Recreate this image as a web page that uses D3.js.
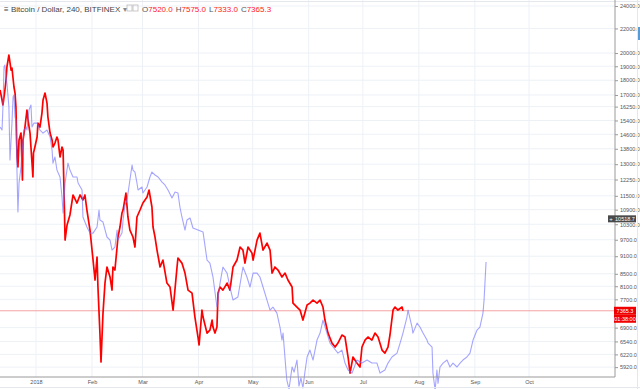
<!DOCTYPE html>
<html>
<head>
<meta charset="utf-8">
<script src="https://cdn.jsdelivr.net/npm/d3@7"></script>
<style>
body{margin:0;background:#fff}
svg{display:block;font-family:"Liberation Sans",Arial,sans-serif}
</style>
</head>
<body>
<div id="chart"></div>
<script>
const W=640,H=389
const plotR=615,plotB=377

// days since 2018-01-01
const redDay=[-19.9,-18.8,-18.3,-17.2,-16.6,-16.1,-15.0,-13.8,-13.3,-12.2,-11.6,-11.1,-10.5,-10.0,-9.4,-8.3,-7.8,-7.5,-7.2,-6.1,-5.0,-4.4,-3.3,-2.8,-2.2,-1.7,-1.4,-0.6,0.6,1.1,2.2,3.3,3.9,5.0,6.1,6.6,7.8,8.9,9.4,10.5,11.6,12.2,13.3,14.4,15.0,15.5,16.1,17.2,18.8,20.5,22.7,24.4,26.0,27.1,28.2,29.9,31.6,32.7,33.8,34.3,35.4,36.0,37.1,38.2,39.3,41.0,42.1,42.6,43.7,44.9,45.4,46.5,47.6,48.2,49.8,50.9,52.0,53.7,54.8,55.9,57.6,59.2,61.5,62.6,64.2,64.8,65.9,67.0,68.7,70.3,72.5,74.2,75.9,78.1,78.6,80.8,82.5,84.2,86.4,88.0,89.1,89.7,90.3,91.9,92.5,94.7,96.3,97.5,98.0,99.1,100.2,100.8,101.9,103.5,105.8,107.4,109.1,111.3,113.0,114.6,115.7,117.4,119.6,120.2,122.4,124.0,125.7,127.9,129.6,130.7,132.3,134.0,136.2,137.9,139.5,141.8,142.3,144.5,146.2,147.8,150.1,151.7,153.4,155.6,157.3,158.9,160.0,161.7,163.9,165.6,167.2,169.4,171.1,172.8,173.9,175.5,177.7,179.4,180.5,182.2,183.8,186.0,187.7,189.4,191.6,193.2,194.9,196.0,197.7,198.8,200.4,202.7,203.2]
const redVal=[17330,16670,16352,17330,18013,18946,19849,18725,18873,17534,17125,16226,13367,12859,14276,14666,13211,12226,14276,15015,16037,15427,14666,13896,13055,12370,13572,13896,14444,15245,15015,15848,16670,17125,16474,15609,14666,14276,13896,14108,14444,14276,13367,13896,13734,11761,9688,10270,10676,11537,11183,11537,11314,11537,10884,10071,8966,8297,9072,8076,6755,6038,7299,8200,8727,8395,7981,8727,8625,9430,9803,10190,10758,10884,11625,10594,10071,9803,9430,10594,10884,11183,11447,11761,11012,10190,9803,9320,8727,8966,8200,8076,7386,8727,9037,8860,8524,7981,7889,7189,6835,6653,6450,7386,7189,6755,6835,7105,6916,6755,6916,7889,8076,7981,8200,7981,8727,8966,9430,9320,8860,9430,9210,8966,9688,9953,9320,9574,9320,8524,8727,8625,8395,8524,8297,8076,7588,7473,7386,7105,7531,7588,7678,7588,7678,7473,7105,6755,6498,6400,6498,6705,6653,6157,5785,6157,6014,5923,6400,6575,6653,6575,6755,6653,6325,6251,6400,6705,7386,7473,7386,7473,7365]

const blueDay=[-19.9,-18.8,-18.3,-17.7,-17.2,-16.6,-16.1,-15.0,-14.4,-13.3,-12.7,-12.2,-11.6,-11.1,-10.5,-10.0,-9.4,-8.3,-7.8,-6.6,-5.5,-5.0,-3.9,-2.8,-2.2,-1.1,0.6,2.2,3.9,6.1,7.8,8.9,9.4,10.5,11.6,13.3,14.4,15.0,16.1,17.7,18.8,20.5,22.7,23.3,25.5,26.0,28.2,29.9,31.6,33.8,34.9,35.4,37.1,39.3,41.0,42.1,43.7,44.9,45.4,47.6,48.2,49.3,50.4,52.0,53.2,53.7,54.8,55.9,56.5,58.7,59.2,61.5,63.1,64.2,65.9,67.6,69.8,71.4,73.1,75.3,77.0,78.6,79.7,80.8,82.5,83.6,85.3,86.9,89.7,92.5,94.7,96.3,98.0,100.2,101.9,103.5,105.8,107.4,109.1,111.8,114.6,116.8,118.5,120.2,122.4,124.0,125.7,127.9,129.6,131.2,133.4,135.1,136.2,136.8,138.4,138.9,140.1,141.8,142.9,144.5,145.6,146.7,147.8,148.9,150.1,151.7,153.4,155.6,157.3,158.9,161.1,162.8,164.5,167.2,169.4,171.1,172.8,175.0,177.7,180.5,183.3,186.0,188.8,190.5,193.2,194.9,197.1,199.9,201.6,203.2,205.4,206.0,208.2,208.7,211.0,212.6,214.3,216.5,217.1,219.3,219.8,221.0,222.0,222.6,223.7,225.4,227.6,229.2,230.9,233.1,234.8,236.4,238.6,240.3,242.0,244.2,245.8,247.5,248.1,248.6,249.2]
const blueVal=[15015,14840,16226,18946,19094,18226,17806,16226,13211,15245,16867,16999,15609,15427,12562,10799,12085,12859,13572,14840,15015,14840,16037,16352,15015,15245,15245,14840,14666,14840,14444,13734,13055,13367,12709,12370,11447,10758,12085,13055,12709,12370,12370,12085,11761,10594,10190,9953,9953,10190,10884,10470,10388,9803,9688,9320,9430,10071,9688,9953,10470,11098,11314,12226,12959,12709,12610,12085,11761,11899,11625,11899,12370,12610,12466,12370,12131,11993,11761,11403,11669,11625,11012,10594,10071,10470,10553,10151,10071,9993,8966,8860,8395,7473,8200,8727,8524,8076,7678,7769,8727,8395,8076,8524,8524,8395,8076,7678,7386,7473,7299,6916,6575,6755,5854,5631,5438,5923,5808,6085,5502,5676,5460,5808,6157,6325,6085,6575,6755,7105,6755,6498,6400,6251,6325,6014,5854,5785,6085,6014,6085,6014,6014,5785,5854,6014,6157,6251,6498,6755,7189,7386,6916,6755,7021,6916,6755,6575,6498,6400,5785,5417,5854,5560,5923,6014,6085,5923,6014,5923,6014,6085,6157,6251,6575,6835,6916,7299,7678,8200,8896]

const yTicks=[24000,22000,20000,19000,18000,17000,16250,15400,14600,13800,13000,12250,11500,10900,10300,9700,9100,8500,8100,7700,6900,6540,6220,5920]
const lastPrice=7365.3
const crossPrice=10518.7
const countdown="01:38:00"
const title="Bitcoin / Dollar, 240, BITFINEX"
const ohlcKeys=["O","H","L","C"]
const ohlcVals=["7520.0","7575.0","7333.0","7365.3"]

const base=Date.UTC(2018,0,1)
const day=d=>new Date(base+d*864e5)

const x=d3.scaleUtc().domain([day(-19.93),day(320.6)]).range([0,plotR])
const y=d3.scaleLog().domain([5698,24565]).range([plotB,0])

const svg=d3.select("#chart").append("svg")
	.attr("width",W).attr("height",H)

// grid
const months=d3.utcMonth.range(day(0),day(280))
svg.append("g").selectAll("line").data(months).join("line")
	.attr("x1",d=>x(d)).attr("x2",d=>x(d))
	.attr("y1",0).attr("y2",plotB)
	.attr("stroke","#edf1f6")
svg.append("g").selectAll("line").data(yTicks).join("line")
	.attr("x1",0).attr("x2",plotR)
	.attr("y1",d=>y(d)).attr("y2",d=>y(d))
	.attr("stroke","#edf1f6")

// top border
svg.append("line").attr("x1",0).attr("x2",W).attr("y1",1.5).attr("y2",1.5).attr("stroke","#e4e7eb")

// last price line
svg.append("line")
	.attr("x1",0).attr("x2",plotR)
	.attr("y1",y(lastPrice)).attr("y2",y(lastPrice))
	.attr("stroke","#f4a3a3").attr("stroke-width",1)

const line=d3.line().x(d=>x(day(d[0]))).y(d=>y(d[1]))

svg.append("path")
	.datum(d3.zip(redDay,redVal))
	.attr("d",line)
	.attr("fill","none").attr("stroke","#ff0000").attr("stroke-width",1.7)
	.attr("stroke-linejoin","round")

svg.append("path")
	.datum(d3.zip(blueDay,blueVal))
	.attr("d",line)
	.attr("fill","none").attr("stroke","#6e6eff").attr("stroke-width",1.1)
	.attr("stroke-opacity",0.62).attr("stroke-linejoin","round")

// axes
const yAxis=svg.append("g").attr("transform",`translate(${plotR},0)`)
	.call(d3.axisRight(y).tickValues(yTicks).tickFormat(d3.format(".1f")).tickSize(3).tickPadding(2))
yAxis.select(".domain").attr("stroke","#9a9a9a").attr("d",`M0,0V${plotB}`)
yAxis.selectAll(".tick line").attr("stroke","#9a9a9a")
yAxis.selectAll("text").attr("fill","#555").style("font-size","5.5px")

const xAxis=svg.append("g").attr("transform",`translate(0,${plotB})`)
	.call(d3.axisBottom(x).tickValues(months)
		.tickFormat(d=>d.getUTCMonth()===0?"2018":d3.utcFormat("%b")(d)).tickSize(0).tickPadding(3))
xAxis.select(".domain").attr("stroke","#9a9a9a").attr("d",`M0,0H${plotR}`)
xAxis.selectAll("text").attr("fill","#555").style("font-size","5.5px")

// bottom/right frame
svg.append("line").attr("x1",0).attr("x2",W).attr("y1",387.5).attr("y2",387.5).attr("stroke","#e4e7eb")
svg.append("line").attr("x1",637.5).attr("x2",637.5).attr("y1",0).attr("y2",H).attr("stroke","#e4e7eb")
svg.append("rect").attr("x",638).attr("y",27).attr("width",2).attr("height",13).attr("fill","#5b9bd5")

// price labels
function tag(yy,h,fill,txt){
	svg.append("rect").attr("x",614).attr("y",yy-h/2).attr("width",22).attr("height",h).attr("fill",fill)
	svg.append("text").attr("x",625).attr("y",yy+2).attr("text-anchor","middle")
		.attr("fill","#fff").style("font-size","5.5px").text(txt)
}
tag(y(lastPrice),8,"#f00000",d3.format(".1f")(lastPrice))
tag(y(lastPrice)+8,8,"#f00000",countdown)
tag(y(crossPrice),7,"#4a4a4a",d3.format(".1f")(crossPrice))
svg.append("rect").attr("x",608).attr("y",y(crossPrice)-3.5).attr("width",6).attr("height",7).attr("fill","#4a4a4a")
svg.append("text").attr("x",611).attr("y",y(crossPrice)+2).attr("text-anchor","middle")
	.attr("fill","#fff").style("font-size","6px").text("+")

// header
const hd=svg.append("text").attr("x",4).attr("y",11.5).style("font-size","8px").attr("fill","#444")
hd.append("tspan").text("≡ ")
hd.append("tspan").text(title+" ")
hd.append("tspan").attr("fill","#888").text("▾")
svg.append("rect").attr("x",127).attr("y",5).attr("width",5).attr("height",6).attr("fill","none").attr("stroke","#bbb").attr("stroke-width",0.8)
svg.append("rect").attr("x",133).attr("y",5).attr("width",5).attr("height",6).attr("fill","none").attr("stroke","#bbb").attr("stroke-width",0.8)
const oh=svg.append("text").attr("x",142).attr("y",11.5).style("font-size","8px")
ohlcKeys.forEach((k,i)=>{
	oh.append("tspan").attr("fill","#555").attr("dx",i?3:0).text(k)
	oh.append("tspan").attr("fill","#ff2020").text(ohlcVals[i])
})
</script>
</body>
</html>
